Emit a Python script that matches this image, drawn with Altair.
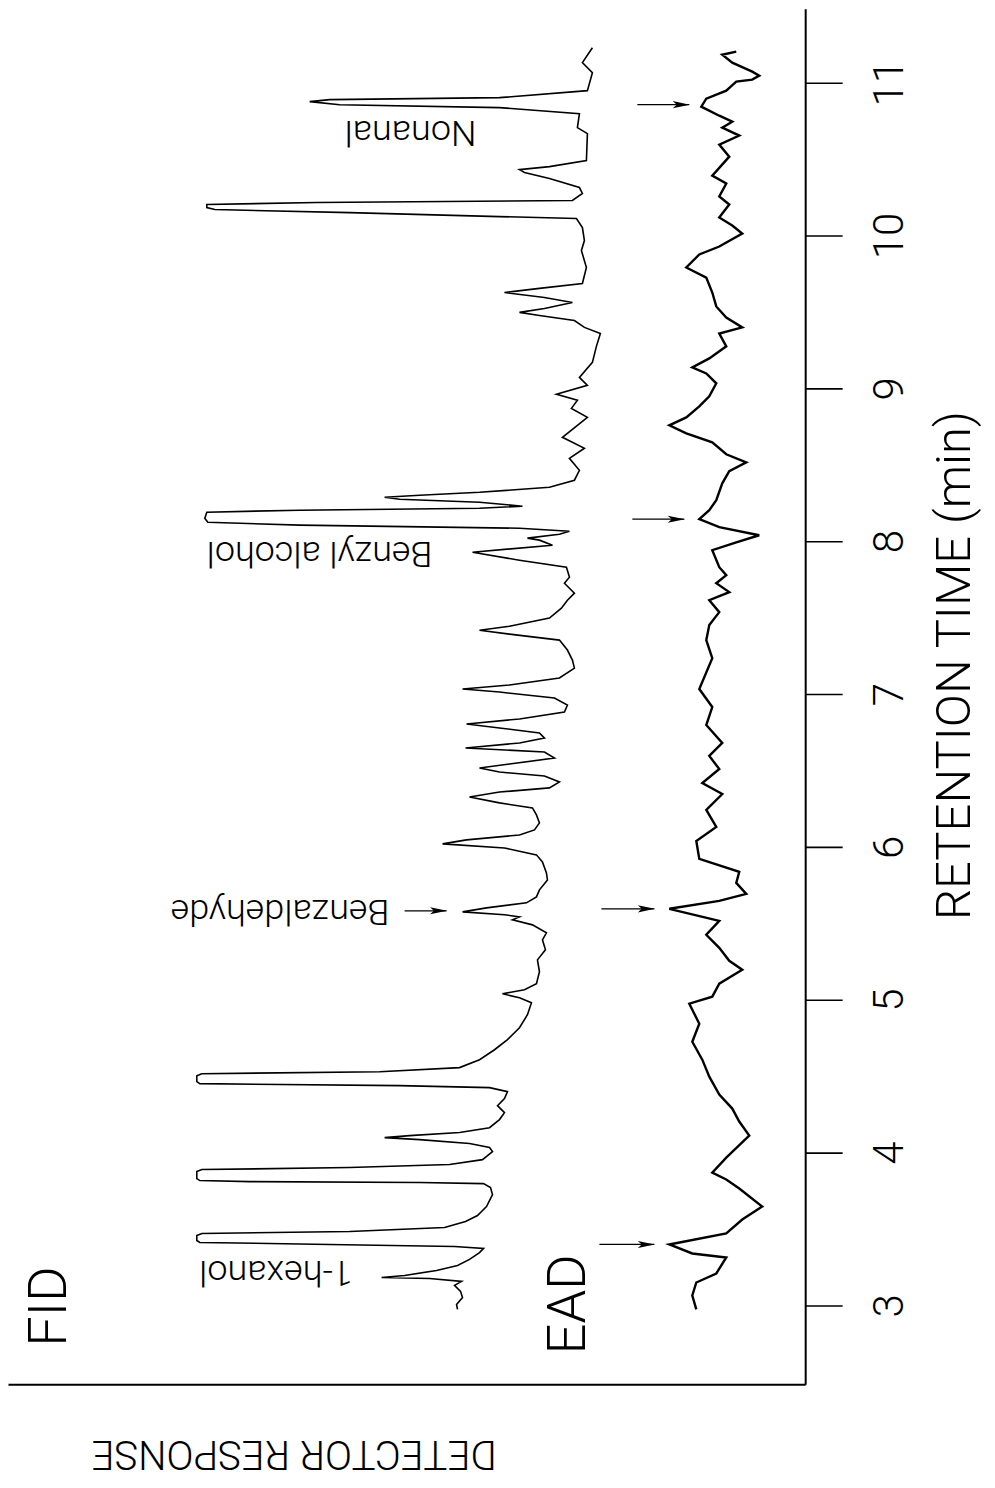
import altair as alt
import pandas as pd

FONT = "Roboto"
FW = 300

# ---- FID trace (retention time in min, detector response in arbitrary units) ----
fid_time = [2.974, 3.007, 3.052, 3.092, 3.131, 3.157, 3.176, 3.183, 3.196, 3.229, 3.261, 3.301, 3.346, 3.373,
            3.386, 3.399, 3.412, 3.425, 3.458, 3.471, 3.484, 3.510, 3.549, 3.588, 3.647, 3.725, 3.771, 3.797,
            3.804, 3.810, 3.817, 3.830, 3.876, 3.889, 3.902, 3.922, 3.954, 4.007, 4.033, 4.059, 4.085, 4.098,
            4.111, 4.131, 4.163, 4.216, 4.261, 4.307, 4.353, 4.399, 4.425, 4.438, 4.451, 4.464, 4.503, 4.516,
            4.529, 4.556, 4.608, 4.673, 4.739, 4.817, 4.902, 4.980, 5.013, 5.039, 5.065, 5.105, 5.183, 5.261,
            5.327, 5.392, 5.438, 5.490, 5.523, 5.542, 5.556, 5.575, 5.601, 5.634, 5.673, 5.719, 5.784, 5.830,
            5.902, 5.948, 5.993, 6.020, 6.046, 6.078, 6.111, 6.157, 6.209, 6.255, 6.288, 6.327, 6.359, 6.386,
            6.425, 6.464, 6.490, 6.516, 6.542, 6.582, 6.621, 6.647, 6.680, 6.712, 6.745, 6.778, 6.804, 6.837,
            6.882, 6.928, 6.974, 7.013, 7.033, 7.059, 7.105, 7.170, 7.222, 7.288, 7.353, 7.392, 7.418, 7.444,
            7.497, 7.562, 7.614, 7.660, 7.725, 7.765, 7.830, 7.876, 7.928, 7.974, 8.007, 8.020, 8.046, 8.065,
            8.085, 8.105, 8.124, 8.150, 8.190, 8.203, 8.216, 8.229, 8.255, 8.275, 8.288, 8.301, 8.320, 8.353,
            8.399, 8.464, 8.542, 8.608, 8.680, 8.758, 8.810, 8.869, 8.922, 8.961, 9.020, 9.072, 9.170, 9.275,
            9.359, 9.399, 9.444, 9.477, 9.497, 9.523, 9.562, 9.595, 9.627, 9.654, 9.686, 9.791, 9.902, 9.967,
            10.052, 10.111, 10.124, 10.150, 10.170, 10.183, 10.203, 10.216, 10.229, 10.275, 10.314, 10.373,
            10.412, 10.431, 10.451, 10.490, 10.667, 10.706, 10.797, 10.837, 10.856, 10.876, 10.889, 10.902,
            10.948, 11.065, 11.131, 11.229]
fid_resp = [348, 349, 343, 345, 351, 344, 376, 424, 401, 369, 348, 336, 326, 322,
            351, 476, 606, 609, 609, 604, 456, 361, 340, 328, 319, 313, 315, 322,
            386, 556, 606, 609, 609, 604, 456, 356, 323, 313, 316, 336, 386, 421,
            396, 346, 316, 306, 301, 308, 301, 298, 316, 406, 606, 609, 609, 604,
            426, 346, 326, 311, 298, 286, 278, 274, 286, 303, 281, 269, 266, 268,
            260, 263, 259, 273, 293, 286, 301, 343, 319, 279, 269, 266, 258, 259,
            263, 269, 301, 363, 339, 286, 271, 266, 269, 273, 306, 336, 306, 256,
            246, 261, 306, 326, 296, 251, 261, 340, 286, 261, 266, 306, 339, 286,
            241, 238, 251, 306, 343, 296, 246, 231, 233, 238, 246, 296, 326, 296,
            256, 244, 238, 231, 241, 236, 239, 286, 333, 253, 266, 278, 246, 236,
            286, 506, 598, 601, 599, 506, 326, 283, 326, 406, 421, 386, 326, 256,
            231, 226, 236, 221, 243, 228, 218, 234, 228, 249, 218, 226, 213, 209,
            205, 221, 231, 266, 286, 261, 233, 261, 301, 266, 223, 219, 224, 221,
            223, 229, 306, 456, 591, 599, 599, 489, 233, 223, 226, 256,
            281, 286, 256, 219, 218, 228, 226, 306, 466, 496, 476, 306,
            218, 213, 223, 213]

# ---- EAD trace ----
ead_time = [2.974, 3.065, 3.150, 3.209, 3.314, 3.340, 3.399, 3.471, 3.562, 3.647, 3.765, 3.824, 3.869, 3.967,
            4.111, 4.203, 4.288, 4.379, 4.497, 4.608, 4.725, 4.843, 4.974, 5.020, 5.105, 5.196, 5.255, 5.340,
            5.425, 5.516, 5.595, 5.647, 5.693, 5.765, 5.837, 5.922, 6.039, 6.131, 6.242, 6.346, 6.418, 6.510,
            6.595, 6.680, 6.797, 6.915, 7.033, 7.235, 7.353, 7.451, 7.536, 7.614, 7.667, 7.725, 7.778, 7.830,
            7.941, 7.993, 8.039, 8.092, 8.144, 8.203, 8.268, 8.379, 8.458, 8.516, 8.569, 8.647, 8.706, 8.758,
            8.810, 8.882, 8.948, 9.033, 9.098, 9.137, 9.196, 9.275, 9.359, 9.399, 9.464, 9.536, 9.627, 9.725,
            9.791, 9.876, 9.928, 10.013, 10.065, 10.118, 10.203, 10.255, 10.340, 10.392, 10.516, 10.595,
            10.654, 10.706, 10.745, 10.784, 10.843, 10.895, 10.948, 11.007, 11.020, 11.046, 11.072, 11.131,
            11.183, 11.203]
ead_resp = [109, 113, 109, 89, 79, 113, 136, 79, 63, 43, 66, 79, 93, 79,
            56, 66, 73, 86, 96, 103, 113, 106, 116, 93, 86, 63, 76, 86,
            99, 86, 136, 86, 59, 69, 66, 106, 109, 89, 99, 83, 103, 86,
            96, 83, 99, 93, 106, 93, 99, 96, 86, 96, 76, 89, 79, 86,
            93, 69, 46, 86, 106, 96, 89, 83, 76, 59, 79, 93, 119, 136,
            119, 106, 96, 89, 99, 113, 96, 79, 86, 63, 79, 89, 93, 99,
            119, 106, 86, 63, 73, 86, 76, 86, 79, 93, 76, 86,
            66, 83, 73, 86, 104, 99, 79, 69, 53, 46, 53, 73,
            83, 69]

# ---- annotations ----
compound_names = ["1-hexanol", "Benzaldehyde", "Benzyl alcohol", "Nonanal"]
compound_time = [3.216, 5.582, 7.922, 10.680]
compound_resp = [453, 416, 373, 329]

trace_names = ["FID", "EAD"]
trace_name_time = [2.993, 3.007]
trace_name_resp = [756, 236]

arrow_time = [3.399, 5.595, 8.144, 10.856, 5.582]
arrow_from = [206, 204, 173, 168, 401]
arrow_to = [151, 151, 121, 116, 359]

time_ticks = [3, 4, 5, 6, 7, 8, 9, 10, 11]

fid = pd.DataFrame({"t": fid_time, "r": fid_resp, "i": range(len(fid_time))})
ead = pd.DataFrame({"t": ead_time, "r": ead_resp, "i": range(len(ead_time))})
comp = pd.DataFrame({"t": compound_time, "r": compound_resp, "name": compound_names})
tnames = pd.DataFrame({"t": trace_name_time, "r": trace_name_resp, "name": trace_names})
arrows = pd.DataFrame({"t": arrow_time, "r": arrow_from, "r2": arrow_to})
heads = pd.DataFrame({"t": arrow_time, "r": [a + 8 for a in arrow_to]})

xscale = alt.Scale(domain=[0, 798], reverse=True, nice=False, zero=False)
yscale = alt.Scale(domain=[2.4837, 11.4837], nice=False, zero=False)

x_axis = alt.Axis(orient="bottom", ticks=False, labels=False, grid=False,
                  domainColor="black", domainWidth=2,
                  title="DETECTOR RESPONSE", titleFont=FONT, titleFontSize=40,
                  titleFontWeight=FW, titleColor="black", titleAngle=180,
                  titleX=286, titleY=68, titleAlign="center", titleBaseline="middle")
y_axis = alt.Axis(orient="right", values=time_ticks, format="d", grid=False,
                  domainColor="black", domainWidth=2,
                  tickColor="black", tickWidth=1.6, tickSize=37,
                  labelFont=FONT, labelFontSize=42, labelFontWeight=FW, labelColor="black",
                  labelAngle=270, labelAlign="center", labelBaseline="top",
                  labelPadding=27, labelFlush=False, labelOverlap=False,
                  title="RETENTION TIME  (min)", titleFont=FONT, titleFontSize=49,
                  titleFontWeight=FW, titleColor="black", titleAngle=270,
                  titleX=149, titleY=657, titleAlign="center", titleBaseline="middle")

X = alt.X("r:Q", scale=xscale, axis=x_axis)
Y = alt.Y("t:Q", scale=yscale, axis=y_axis)

fid_line = alt.Chart(fid).mark_line(color="black", strokeWidth=1.6).encode(
    x=X, y=Y, order="i:Q",
)
ead_line = alt.Chart(ead).mark_line(color="black", strokeWidth=2.4).encode(
    x=X, y=Y, order="i:Q",
)
comp_text = alt.Chart(comp).mark_text(font=FONT, fontSize=36, fontWeight=FW, angle=180, align="left",
                                      baseline="middle", color="black").encode(
    x=X, y=Y, text="name:N",
)
tname_text = alt.Chart(tnames).mark_text(font=FONT, fontSize=54, fontWeight=FW, angle=270, align="center",
                                         baseline="middle", color="black").encode(
    x=X, y=Y, text="name:N",
)
arrow_rules = alt.Chart(arrows).mark_rule(color="black", strokeWidth=1.3).encode(
    x=X, x2="r2:Q", y=Y,
)
arrow_heads = alt.Chart(heads).mark_point(
    shape="M -1 -0.42 L 1 0 L -1 0.42 L -0.55 0 Z", size=290, filled=True,
    color="black", opacity=1).encode(
    x=X, y=Y,
)

chart = alt.layer(fid_line, ead_line, comp_text, tname_text, arrow_rules, arrow_heads).properties(
    width=798, height=1377, padding={"left": 0, "top": 0, "right": 8, "bottom": 14},
    background="white",
).configure_view(strokeWidth=0)

chart.save("out.html", embed_options={"renderer": "svg", "actions": False})
